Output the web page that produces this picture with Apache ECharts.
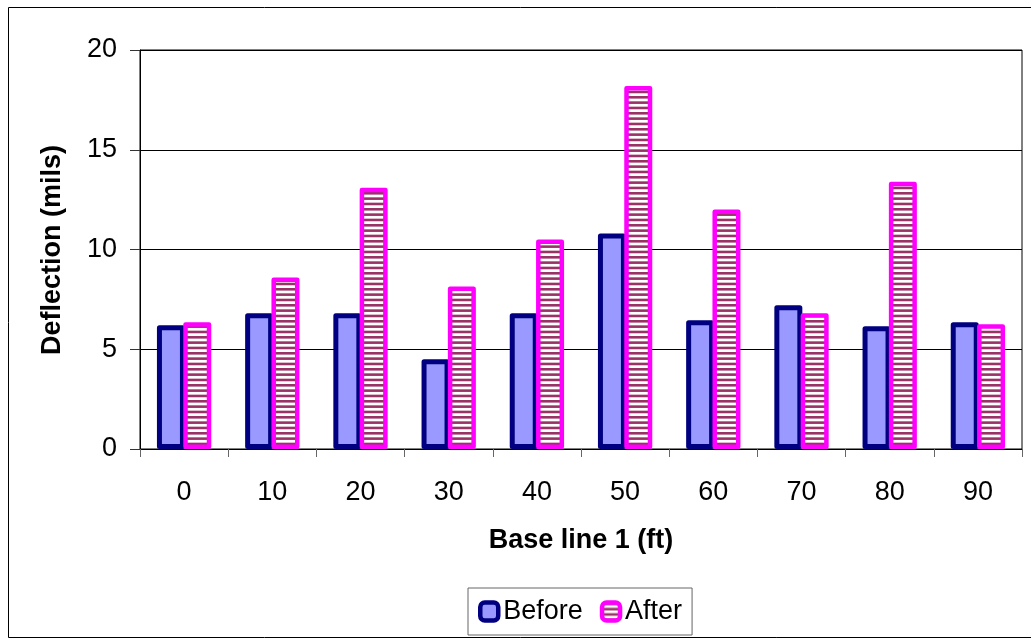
<!DOCTYPE html>
<html>
<head>
<meta charset="utf-8">
<script src="https://cdn.jsdelivr.net/npm/echarts@6/dist/echarts.min.js"></script>
<style>
  html, body { margin: 0; padding: 0; background: #fff; }
  #chart { width: 1031px; height: 640px; }
</style>
</head>
<body>
<div id="chart"></div>
<script>
// Deflection measured along base line 1, before and after
const categories = ['0', '10', '20', '30', '40', '50', '60', '70', '80', '90'];
const beforeValues = [6.2, 6.8, 6.8, 4.5, 6.8, 10.8, 6.45, 7.2, 6.15, 6.35];
const afterValues = [6.35, 8.6, 13.1, 8.15, 10.5, 18.2, 12.0, 6.8, 13.4, 6.25];
const yTicks = [0, 5, 10, 15, 20];

const FONT = "'Liberation Sans', Arial, sans-serif";

// Horizontal maroon/white stripe fill for the "After" bars
const stripe = document.createElement('canvas');
stripe.width = 8;
stripe.height = 16;
(function () {
  const ctx = stripe.getContext('2d');
  ctx.fillStyle = '#ffffff';
  ctx.fillRect(0, 0, 8, 16);
  ctx.fillStyle = '#993366';
  for (let k = 0; k < 3; k++) {
    ctx.fillRect(0, k * 16 / 3, 8, 2.6);
  }
})();

const chart = echarts.init(document.getElementById('chart'), null, { renderer: 'canvas' });

chart.setOption({
  animation: false,
  backgroundColor: '#ffffff',
  grid: {
    left: 140, right: 9, top: 50, bottom: 191,
    show: true, borderColor: '#000', borderWidth: 1,
    containLabel: false
  },
  xAxis: {
    type: 'category',
    data: categories,
    boundaryGap: true,
    axisLine: { lineStyle: { color: '#000', width: 1 } },
    axisTick: { show: true, interval: 0, length: 8, lineStyle: { color: '#666' } },
    axisLabel: { margin: 30, fontSize: 27, color: '#000', fontFamily: FONT, interval: 0 },
    splitLine: { show: false }
  },
  yAxis: {
    type: 'value',
    min: yTicks[0],
    max: yTicks[yTicks.length - 1],
    interval: yTicks[1] - yTicks[0],
    axisLine: { show: true, lineStyle: { color: '#000', width: 1 } },
    axisTick: { show: true, length: 10, lineStyle: { color: '#333' } },
    axisLabel: { margin: 23, fontSize: 27, color: '#000', fontFamily: FONT },
    splitLine: { show: true, lineStyle: { color: '#000', width: 1 } }
  },
  legend: {
    data: ['Before', 'After'],
    left: 468,
    top: 588,
    orient: 'horizontal',
    itemWidth: 18,
    itemHeight: 18,
    itemGap: 17,
    padding: [10, 10, 10, 10],
    borderColor: '#666',
    borderWidth: 1,
    icon: 'roundRect',
    itemStyle: { borderWidth: 4.5 },
    textStyle: { fontSize: 27, color: '#000', fontFamily: FONT }
  },
  graphic: [
    {
      type: 'rect',
      silent: true,
      z: -10,
      shape: { x: 8.5, y: 7.5, width: 1040, height: 630 },
      style: { fill: 'none', stroke: '#000', lineWidth: 1 }
    },
    {
      type: 'text',
      x: 581, y: 541,
      style: {
        text: 'Base line 1 (ft)',
        font: "bold 27px " + FONT,
        fill: '#000',
        align: 'center',
        verticalAlign: 'middle'
      }
    },
    {
      type: 'text',
      x: 53, y: 250,
      rotation: Math.PI / 2,
      style: {
        text: 'Deflection (mils)',
        font: "bold 27px " + FONT,
        fill: '#000',
        align: 'center',
        verticalAlign: 'middle'
      }
    }
  ],
  series: [
    {
      name: 'Before',
      type: 'bar',
      data: beforeValues,
      barWidth: 28,
      barGap: '-6%',
      itemStyle: {
        color: '#9999ff',
        borderColor: '#000080',
        borderWidth: 5,
        borderJoin: 'round'
      }
    },
    {
      name: 'After',
      type: 'bar',
      data: afterValues,
      barWidth: 28,
      barGap: '-6%',
      itemStyle: {
        color: { image: stripe, repeat: 'repeat' },
        borderColor: '#ff00ff',
        borderWidth: 4.5,
        borderJoin: 'round'
      }
    }
  ]
});
</script>
</body>
</html>
